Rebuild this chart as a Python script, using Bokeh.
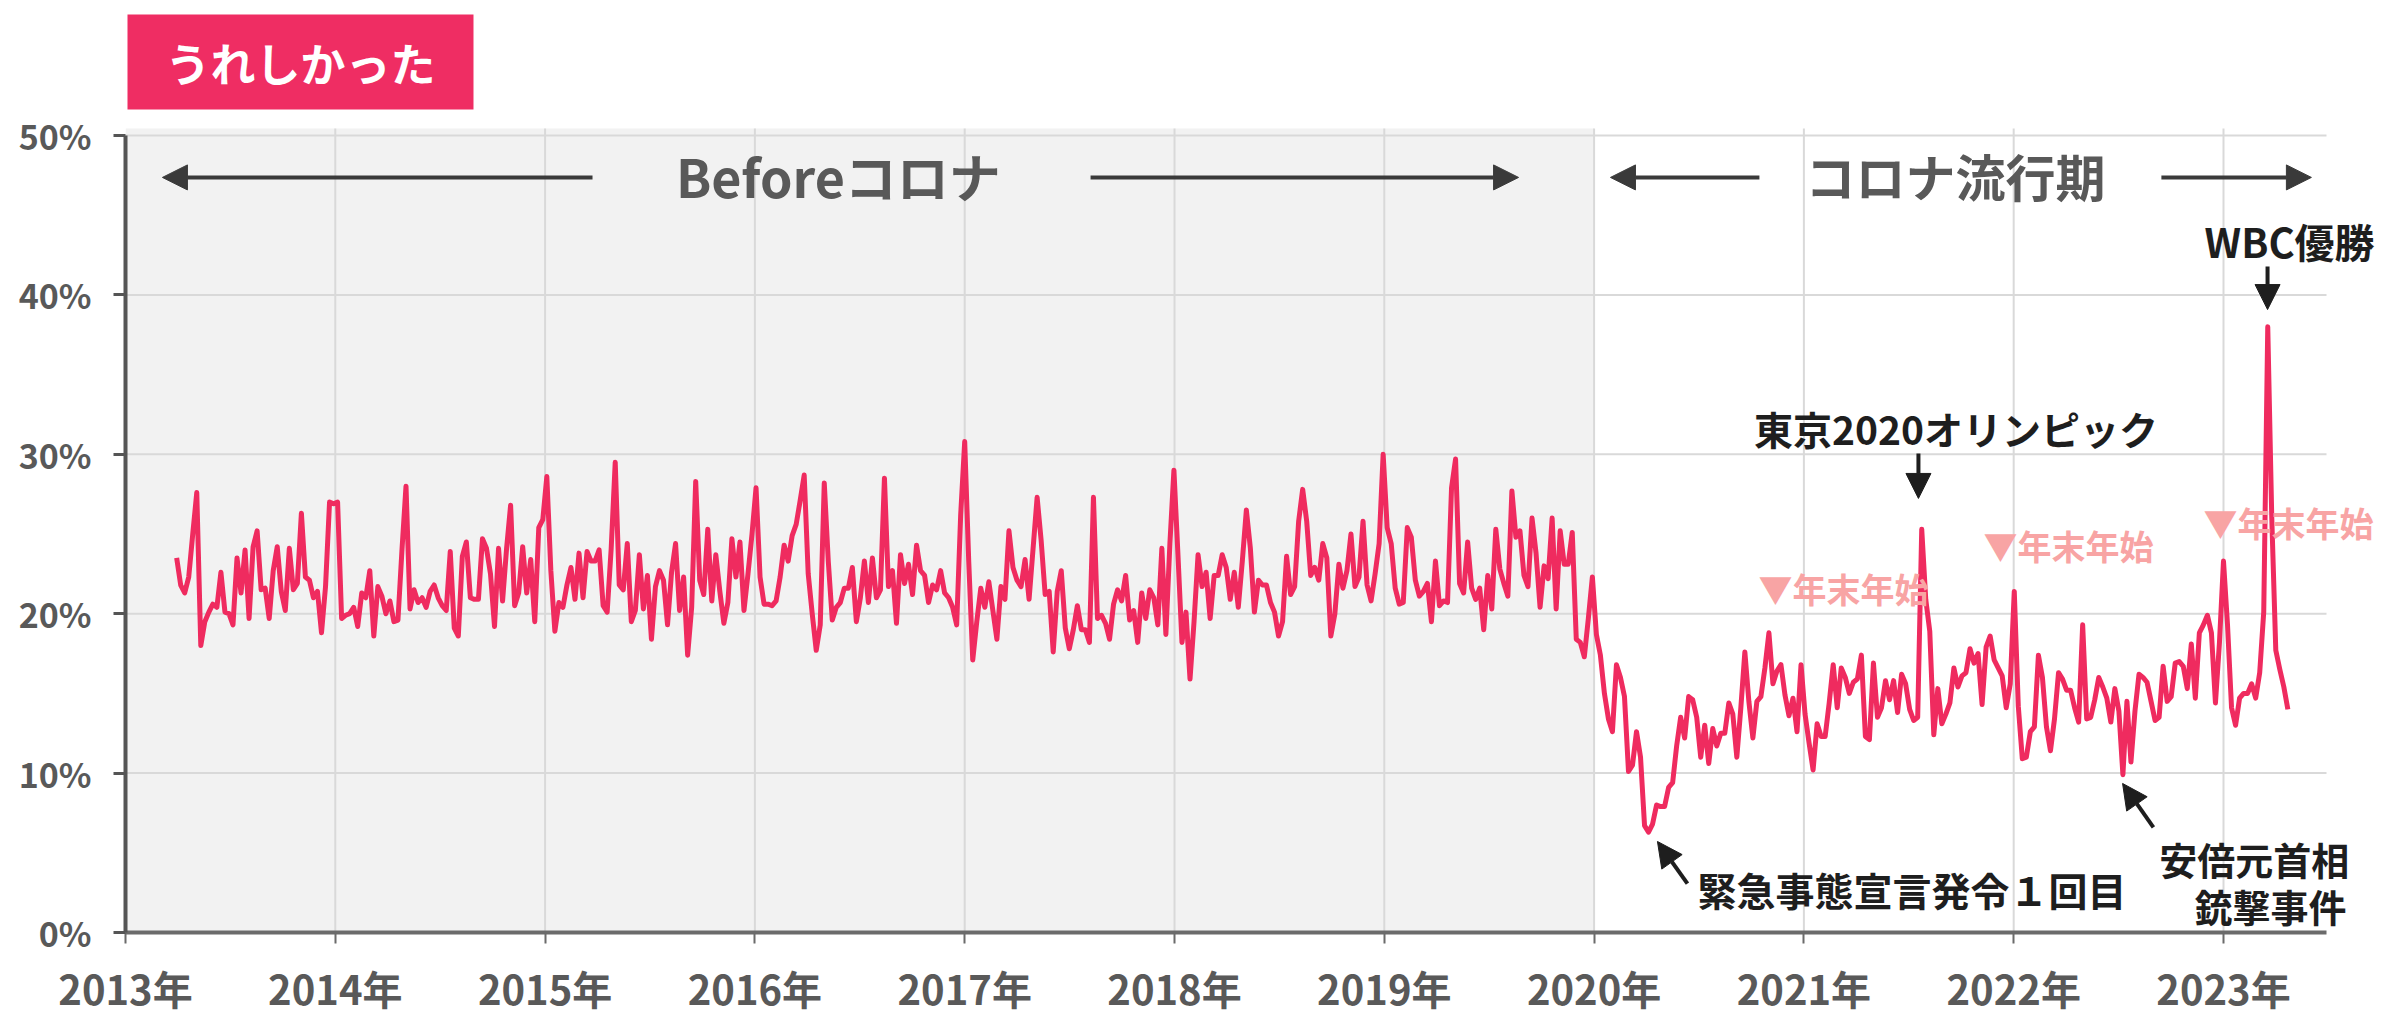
import numpy as np
import pandas as pd
from bokeh.plotting import figure
from bokeh.models import (Range1d, FixedTicker, CustomJSTickFormatter, Label,
                          Arrow, NormalHead)
from bokeh.embed import file_html
from bokeh.resources import INLINE

# ---------------- data ----------------
START_DATE = "2013-03-31"          # first weekly observation
year_ticks = list(range(2013, 2024))
pct_ticks = [0, 10, 20, 30, 40, 50]
covid_start = 2020.0

# weekly share answering "うれしかった" (%)
happy_pct = [
    23.5, 21.8, 21.3, 22.3, 25.0, 27.6, 18.0, 19.5, 20.1, 20.6,
    20.4, 22.6, 20.1, 20.0, 19.3, 23.5, 21.3, 24.0, 19.7, 24.2,
    25.2, 21.5, 21.6, 19.7, 22.7, 24.2, 21.4, 20.2, 24.1, 21.5,
    21.9, 26.3, 22.3, 22.1, 21.0, 21.4, 18.8, 21.7, 27.0, 26.9,
    27.0, 19.7, 19.9, 20.0, 20.4, 19.2, 21.3, 21.0, 22.7, 18.6,
    21.7, 21.1, 20.0, 20.8, 19.5, 19.6, 24.0, 28.0, 20.3, 21.5,
    20.7, 21.0, 20.4, 21.4, 21.8, 21.0, 20.5, 20.2, 23.9,
    19.1, 18.6, 23.6, 24.5, 21.0, 20.9, 20.9, 24.7, 24.1, 22.5,
    19.2, 24.1, 20.8, 24.1, 26.8, 20.5, 21.3, 24.2, 21.3, 23.4,
    19.5, 25.4, 25.9, 28.6, 22.7, 18.9, 20.7, 20.4, 21.8, 22.9,
    20.9, 23.8, 21.0, 23.9, 23.3, 23.3, 24.0, 20.5, 20.1, 24.1,
    29.5, 21.8, 21.5, 24.4, 19.5, 20.2, 23.7, 20.3, 22.4, 18.4,
    21.7, 22.7, 22.1, 19.3, 22.6, 24.4, 20.2, 22.3, 17.4, 20.4,
    28.3, 22.1, 21.2, 25.3, 20.8, 23.7, 21.4, 19.4, 20.7,
    24.7, 22.3, 24.5, 20.2, 22.5, 25.0, 27.9, 22.3, 20.6, 20.6,
    20.5, 20.8, 22.3, 24.3, 23.3, 24.9, 25.6, 27.1, 28.7, 22.5,
    20.0, 17.7, 19.3, 28.2, 23.3, 19.6, 20.4, 20.7, 21.6, 21.6,
    22.9, 19.5, 21.0, 23.3, 20.7, 23.5, 21.0, 21.5, 28.5, 21.7,
    22.7, 19.4, 23.7, 21.9, 23.1, 21.2, 24.3, 22.7, 22.4, 20.7,
    21.8, 21.5, 22.7, 21.3, 21.0, 20.4, 19.3, 26.2, 30.8, 23.3,
    17.1, 19.5, 21.6, 20.4, 22.0, 20.2, 18.4, 21.7, 20.9, 25.2,
    22.9, 22.1, 21.7, 23.4, 20.9, 24.1, 27.3, 24.6, 21.2, 21.4,
    17.6, 21.4, 22.7, 19.1, 17.8, 19.0, 20.5, 19.0, 19.0, 18.2,
    27.3, 19.7, 19.9, 19.4, 18.4, 20.6, 21.5, 20.8, 22.4, 19.6,
    20.2, 18.2, 21.3, 19.7, 21.5, 21.0, 19.3, 24.1, 18.7, 24.4,
    29.0, 23.7, 18.2, 20.1, 15.9, 19.5, 23.7, 21.7, 22.6, 19.7,
    22.4, 22.4, 23.7, 22.9, 20.9, 22.6, 20.4, 23.3, 26.5, 24.1,
    20.1, 22.1, 21.8, 21.8, 20.7, 20.1, 18.6, 19.5, 23.6,
    21.2, 21.7, 25.8, 27.8, 25.8, 22.4, 22.9, 22.1, 24.4, 23.5,
    18.6, 20.0, 23.1, 21.6, 22.7, 25.0, 21.7, 22.3, 25.8, 21.8,
    20.8, 22.5, 24.4, 30.0, 25.4, 24.4, 21.6, 20.6, 20.7, 25.4,
    24.8, 22.1, 21.1, 21.4, 21.9, 19.5, 23.3, 20.5, 20.8, 20.7,
    27.9, 29.7, 21.9, 21.3, 24.5, 21.6, 20.9, 21.6, 19.0, 22.4,
    20.3, 25.3, 22.8, 21.9, 21.1, 27.7, 24.8, 25.2, 22.4, 21.7,
    26.0, 23.8, 20.4, 23.0, 22.2, 26.0, 20.3, 25.2, 23.1, 23.1,
    25.1,
    18.4, 18.2, 17.3, 19.7, 22.3, 18.7, 17.4, 15.0, 13.4, 12.6,
    16.8, 16.0, 14.8, 10.1, 10.5, 12.6, 11.0, 6.7, 6.3, 6.8,
    8.0, 7.9, 7.9, 9.1, 9.4, 11.7, 13.5, 12.2, 14.8, 14.6,
    13.5, 11.0, 13.0, 10.6, 12.8, 11.7, 12.5, 12.5, 14.4, 13.7,
    11.0, 14.1, 17.6, 14.5, 12.2, 14.5, 14.8, 16.6, 18.8, 15.6,
    16.4, 16.8, 14.9, 13.6, 14.7, 12.6, 16.8, 13.7, 11.9, 10.2,
    13.1, 12.3, 12.3, 14.4, 16.8, 14.1,
    16.6, 16.0, 15.0, 15.7, 15.9, 17.4, 12.3, 12.1, 16.9, 13.5,
    14.1, 15.8, 14.6, 15.8, 13.8, 16.2, 15.6, 14.0, 13.3, 13.5,
    25.3, 20.9, 18.9, 12.4, 15.3, 13.1, 13.7, 14.4, 16.6, 15.4,
    16.1, 16.3, 17.8, 16.9, 17.5, 14.3, 17.9, 18.6, 17.1, 16.6,
    16.1, 14.1, 15.6, 21.4, 14.2, 10.9, 11.0, 12.6, 12.9, 17.4,
    16.0, 12.9, 11.4, 13.4, 16.3, 15.9, 15.2, 15.2, 14.1, 13.2,
    19.3, 13.4, 13.5, 14.6, 16.0,
    15.4, 14.7, 13.2, 15.3, 13.9, 9.9, 14.5, 10.7, 13.9, 16.2,
    16.0, 15.7, 14.5, 13.3, 13.5, 16.7, 14.5, 14.8, 16.9, 17.0,
    16.7, 15.3, 18.1, 14.7, 18.8, 19.3, 19.9, 18.8, 14.4, 18.2,
    23.3, 19.3, 14.1, 13.0, 14.7, 15.0, 15.0, 15.6, 14.7, 16.3,
    20.1, 38.0, 26.0, 17.7, 16.5, 15.4, 14.0,
]

dates = pd.date_range(START_DATE, periods=len(happy_pct), freq="7D")
days_in_year = np.where(dates.is_leap_year, 366.0, 365.0)
x_years = np.asarray(dates.year + (dates.dayofyear - 1) / days_in_year, dtype=float)

# ---------------- styling constants ----------------
FONT = "Noto Sans CJK JP"
PINK = "#ef2b5f"
GREY_TXT = "#595959"
DARK = "#1e1e1e"
X0, X_AXIS_END, X_VIEW_END = 2013.0, 2023.491, 2023.8437
Y_TOP = 57.716
PLOT_TOP = 50.44

p = figure(width=2400, height=1020, output_backend="svg", toolbar_location=None,
           x_range=Range1d(X0, X_VIEW_END), y_range=Range1d(0, Y_TOP),
           min_border_left=125, min_border_right=0, min_border_top=12,
           min_border_bottom=88)
p.background_fill_color = "white"
p.border_fill_color = "white"
p.outline_line_color = None
p.xgrid.visible = False
p.ygrid.visible = False

# shaded "before corona" period
p.quad(left=[X0], right=[covid_start], bottom=[0], top=[PLOT_TOP],
       fill_color="#f2f2f2", line_color=None)

# grid lines
p.segment(x0=year_ticks[1:], y0=0, x1=year_ticks[1:], y1=PLOT_TOP,
          line_color="#d9d9d9", line_width=2)
p.segment(x0=X0, y0=pct_ticks[1:], x1=X_AXIS_END, y1=pct_ticks[1:],
          line_color="#d9d9d9", line_width=2)

# data line
p.line(x_years, happy_pct, line_color=PINK, line_width=5, line_join="round")

# title box
p.quad(left=[2013.0095], right=[2014.6587], bottom=[51.63], top=[57.59],
       fill_color="#ef2d63", line_color=None)
p.add_layout(Label(x=2013.834, y=54.61, text="うれしかった", text_font=FONT,
                   text_font_style="bold", text_font_size="45px",
                   text_color="white", text_align="center",
                   text_baseline="middle"))

# axes
xa = p.xaxis[0]
xa.ticker = FixedTicker(ticks=year_ticks)
xa.formatter = CustomJSTickFormatter(code="return tick + '年';")
xa.bounds = (X0, X_AXIS_END)
xa.major_label_text_font = FONT
xa.major_label_text_font_style = "bold"
xa.major_label_text_font_size = "40px"
xa.major_label_text_color = GREY_TXT
xa.axis_line_color = "#6b6b6b"
xa.axis_line_width = 4
xa.major_tick_line_color = "#6b6b6b"
xa.major_tick_line_width = 2
xa.major_tick_out = 11
xa.major_tick_in = 0
xa.minor_tick_line_color = None
xa.major_label_standoff = 15

ya = p.yaxis[0]
ya.ticker = FixedTicker(ticks=pct_ticks)
ya.formatter = CustomJSTickFormatter(code="return tick + '%';")
ya.bounds = (0, 50)
ya.major_label_text_font = FONT
ya.major_label_text_font_style = "bold"
ya.major_label_text_font_size = "34px"
ya.major_label_text_color = GREY_TXT
ya.axis_line_color = "#555555"
ya.axis_line_width = 4
ya.major_tick_line_color = "#555555"
ya.major_tick_line_width = 3
ya.major_tick_out = 12
ya.major_tick_in = 0
ya.minor_tick_line_color = None
ya.major_label_standoff = 22


def add_text(x, y, text, size, color=DARK, align="center", style="bold"):
    p.add_layout(Label(x=x, y=y, text=text, text_font=FONT,
                       text_font_style=style, text_font_size=size,
                       text_color=color, text_align=align,
                       text_baseline="middle"))


def add_arrow(xs, ys, xe, ye, color=DARK, width=4, size=25):
    p.add_layout(Arrow(end=NormalHead(size=size, fill_color=color,
                                      line_color=color),
                       x_start=xs, y_start=ys, x_end=xe, y_end=ye,
                       line_color=color, line_width=width))


# period labels
add_text(2016.398, 47.5, "Beforeコロナ", "52px", color=GREY_TXT)
add_arrow(2015.226, 47.37, 2013.176, 47.37, color="#3a3a3a")
add_arrow(2017.600, 47.37, 2019.640, 47.37, color="#3a3a3a")
add_text(2021.723, 47.5, "コロナ流行期", "50px", color=GREY_TXT)
add_arrow(2020.788, 47.37, 2020.078, 47.37, color="#3a3a3a")
add_arrow(2022.704, 47.37, 2023.419, 47.37, color="#3a3a3a")

# event annotations
add_text(2021.725, 31.68, "東京2020オリンピック", "39px")
add_arrow(2021.546, 30.05, 2021.546, 27.23)
add_text(2023.315, 43.35, "WBC優勝", "40px")
add_arrow(2023.210, 41.78, 2023.210, 39.08)
add_text(2020.493, 2.76, "緊急事態宣言発令１回目", "39px", align="left")
add_arrow(2020.445, 3.07, 2020.302, 5.71)
add_text(2023.600, 4.64, "安倍元首相", "38px", align="right")
add_text(2023.586, 1.69, "銃撃事件", "38px", align="right")
add_arrow(2022.666, 6.59, 2022.519, 9.35)

# year-end markers
for xx, yy in [(2020.784, 21.58), (2021.856, 24.28), (2022.905, 25.72)]:
    add_text(xx, yy, "▼年末年始", "34px", color="#f8a4a4", align="left")

open("out.html", "w").write(file_html(p, INLINE))
